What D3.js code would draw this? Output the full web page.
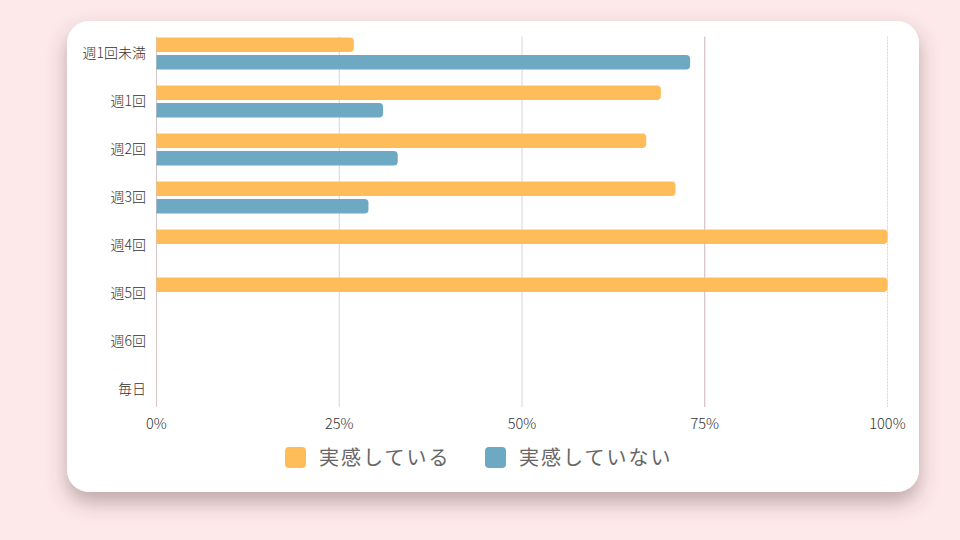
<!DOCTYPE html>
<html><head><meta charset="utf-8">
<script src="https://cdn.jsdelivr.net/npm/d3@7"></script>
<style>html,body{margin:0;padding:0;background:#fde8ea;}svg{display:block;}</style>
</head><body>
<svg id="c" width="960" height="540"></svg>
<script>
const categories = ["週1回未満","週1回","週2回","週3回","週4回","週5回","週6回","毎日"];
const seriesNames = ["実感している","実感していない"];
const feelYes = [27, 69, 67, 71, 100, 100, 0, 0];
const feelNo  = [73, 31, 33, 29, 0, 0, 0, 0];
const xTicks = [0, 25, 50, 75, 100];
const colors = ["#ffbd59", "#6ea9c4"];

const svg = d3.select("#c");
const defs = svg.append("defs");
const f = defs.append("filter").attr("id","sh").attr("x","-10%").attr("y","-10%").attr("width","120%").attr("height","130%");
f.append("feDropShadow").attr("dx",0).attr("dy",10).attr("stdDeviation",10).attr("flood-color","#5b4244").attr("flood-opacity",0.4);

svg.append("rect").attr("width",960).attr("height",540).attr("fill","#fde8ea");
svg.append("rect").attr("x",67).attr("y",21).attr("width",852).attr("height",471).attr("rx",22)
  .attr("fill","#fff").attr("filter","url(#sh)");

const x = d3.scaleLinear().domain([0,100]).range([156,887]);
const y = d3.scaleBand().domain(categories).range([29.5,413.5]).paddingInner(1/3).paddingOuter(1/6);
const sub = d3.scaleBand().domain(seriesNames).range([0,y.bandwidth()]).paddingInner(0.16);

const gridTop = 36.5, gridBot = 407;
const gridColor = {0:"#d8c3c5",25:"#d6d6d6",50:"#d6d6d6",75:"#cbb6b8",100:"#d6d6d6"};
svg.append("g").selectAll("line").data(xTicks).join("line")
  .attr("x1",d=>x(d)+0.5).attr("x2",d=>x(d)+0.5).attr("y1",gridTop).attr("y2",gridBot)
  .attr("stroke",d=>gridColor[d]).attr("stroke-width",1)
  .attr("stroke-dasharray",d=>d===100?"2,1":null);

const data = [];
categories.forEach((c,i)=>{
  data.push({c, s:seriesNames[0], v:feelYes[i], col:colors[0]});
  data.push({c, s:seriesNames[1], v:feelNo[i], col:colors[1]});
});

function barPath(x0,y0,w,h,r){
  if (w<=0) return "";
  r = Math.min(r,w,h/2);
  return `M${x0},${y0}H${x0+w-r}A${r},${r} 0 0 1 ${x0+w},${y0+r}V${y0+h-r}A${r},${r} 0 0 1 ${x0+w-r},${y0+h}H${x0}Z`;
}
svg.append("g").selectAll("path").data(data.filter(d=>d.v>0)).join("path")
  .attr("d",d=>barPath(x(0)+0.5, y(d.c)+sub(d.s), x(d.v)-x(0), sub.bandwidth(), 4))
  .attr("fill",d=>d.col);

const font = "'Noto Sans CJK JP','Noto Sans',sans-serif";
// y labels
svg.append("g").selectAll("text").data(categories).join("text")
  .attr("x",146).attr("y",d=>y(d)+y.bandwidth()/2-2).attr("text-anchor","end").attr("dominant-baseline","central")
  .attr("font-family",font).attr("font-size",14).attr("font-weight",300).attr("fill","#333")
  .text(d=>d);

// x labels
svg.append("g").selectAll("text").data(xTicks).join("text")
  .attr("x",d=>x(d)+0.5).attr("y",422).attr("text-anchor","middle").attr("dominant-baseline","central")
  .attr("font-family",font).attr("font-size",14.5).attr("font-weight",300).attr("fill","#333")
  .text(d=>d+"%");

// legend
const leg = svg.append("g");
const legX = [285, 485];
seriesNames.forEach((s,i)=>{
  leg.append("rect").attr("x",legX[i]).attr("y",447).attr("width",21).attr("height",21).attr("rx",4).attr("fill",colors[i]);
  leg.append("text").attr("x",legX[i]+34).attr("y",456.5).attr("dominant-baseline","central")
    .attr("font-family",font).attr("font-size",20).attr("fill","#666")
    .attr("letter-spacing",2).text(s);
});
</script>
</body></html>
